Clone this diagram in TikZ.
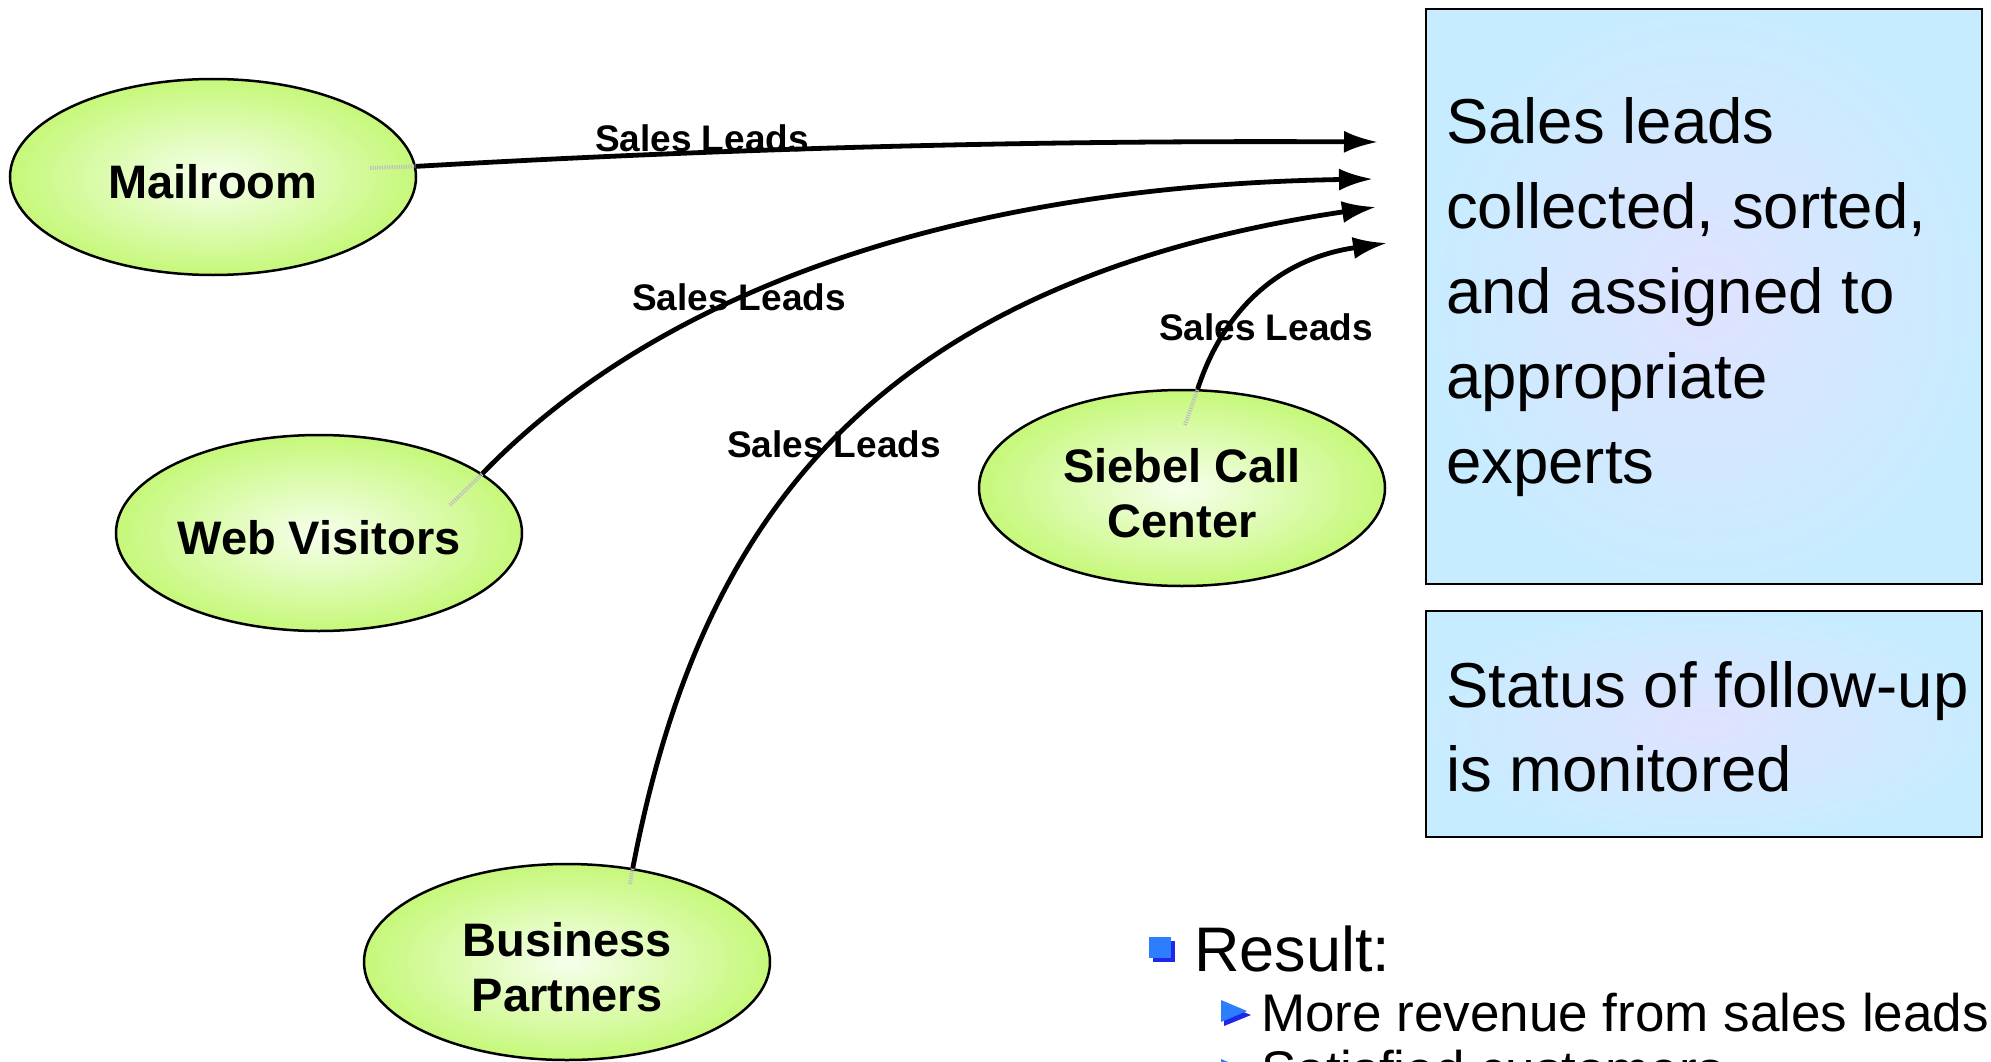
\documentclass[tikz,border=0pt]{standalone}
\usepackage{fontspec}
\setmainfont{Liberation Sans}
\usetikzlibrary{shapes.geometric,arrows.meta}
\definecolor{ellout}{RGB}{198,248,122}
\definecolor{ellin}{RGB}{246,255,236}
\definecolor{boxout}{RGB}{200,236,255}
\definecolor{boxin}{RGB}{224,226,255}
\definecolor{bulA}{RGB}{45,125,255}
\definecolor{bulB}{RGB}{30,40,235}
\newcommand{\lowr}{\rule{0pt}{43.5pt}}
\begin{document}
\begin{tikzpicture}[x=1pt,y=-1pt,
  src/.style={ellipse,draw=black,line width=2.5pt,inner color=ellin,outer color=ellout,
    minimum width=406pt,minimum height=196pt,inner sep=0pt,align=center,
    font=\fontsize{47}{55}\selectfont\bfseries},
  flow/.style={line width=4.8pt,-{Latex[length=34pt,width=22pt]}},
  stub/.style={line width=4pt,draw=gray!50,dash pattern=on 1.2pt off 1.2pt},
  lbl/.style={anchor=base,inner sep=0pt,font=\fontsize{37}{44}\selectfont\bfseries},
  infobox/.style={draw=black,line width=2.5pt,inner color=boxin,outer color=boxout,inner sep=0pt},
  boxtxt/.style={anchor=base west,inner sep=0pt,font=\fontsize{63.5}{85}\selectfont},
  restxt/.style={anchor=base west,inner sep=0pt}]
\useasboundingbox (0,0) rectangle (1991,1062);
\clip (0,0) rectangle (1991,1062);

% info boxes
\node[infobox,minimum width=556pt,minimum height=575pt] (box1) at (1704,296.5) {};
\node[infobox,minimum width=556pt,minimum height=226pt] (box2) at (1704,724) {};
\node[boxtxt] (b1a) at (1446,143) {Sales leads};
\node[boxtxt] (b1b) at (1446,228) {collected, sorted,};
\node[boxtxt] (b1c) at (1446,313) {and assigned to};
\node[boxtxt] (b1d) at (1446,398) {appropriate};
\node[boxtxt] (b1e) at (1446,483) {experts};
\node[boxtxt] (b2a) at (1446,707) {Status of follow-up};
\node[boxtxt] (b2b) at (1446,791) {is monitored};

% sources
\node[src] (mail) at (213,177) {\lowr Mailroom};
\node[src] (web) at (319,533) {\lowr Web Visitors};
\node[src] (bp) at (567,962) {\lowr Business\\Partners};
\node[src] (sc) at (1182,488) {\lowr Siebel Call\\Center};

% stubs inside ellipses
\coordinate (s1) at (370,168);
\coordinate (s2) at (450,505);
\coordinate (s3) at (1185,425);
\coordinate (s4) at (630,884);
\draw[stub] (s1) -- (mail.3);
\draw[stub] (s2) -- (web.20);
\draw[stub] (s3) -- (sc.81);
\draw[stub] (s4) -- (bp.55);

% labels
\node[lbl] (l1) at (702,152) {Sales Leads};
\node[lbl] (l2) at (739,310) {Sales Leads};
\node[lbl] (l3) at (834,457) {Sales Leads};
\node[lbl] (l4) at (1266,340) {Sales Leads};

% arrow tips
\coordinate (t1) at (1378,142);
\coordinate (t2) at (1373,179);
\coordinate (t3) at (1376,207);
\coordinate (t4) at (1387,243);

\draw[flow] (mail.3) .. controls (700,150) and (1000,140) .. (t1);
\draw[flow] (web.20) .. controls (680,270) and (1000,185) .. (t2);
\draw[flow] (bp.55) .. controls (695,545) and (850,285) .. (t3);
\draw[flow] (sc.81) .. controls (1220,320) and (1270,260) .. (t4);

% result bullets
\fill[bulB] (1153,941) rectangle (1175,962);
\fill[bulA] (1149,937) rectangle (1171,958);
\node[restxt,font=\fontsize{63}{70}\selectfont] (res) at (1194,971) {Result:};
\fill[bulB] (1224,1004) -- (1224,1026) -- (1251,1015) -- cycle;
\fill[bulA] (1221,1000) -- (1221,1022) -- (1247,1011) -- cycle;
\node[restxt,font=\fontsize{53}{60}\selectfont] (r1) at (1261,1031) {More revenue from sales leads};
\fill[bulB] (1224,1063) -- (1224,1085) -- (1251,1074) -- cycle;
\fill[bulA] (1221,1059) -- (1221,1081) -- (1247,1070) -- cycle;
\node[restxt,font=\fontsize{53}{60}\selectfont] (r2) at (1261,1088) {Satisfied customers};
\end{tikzpicture}
\end{document}
